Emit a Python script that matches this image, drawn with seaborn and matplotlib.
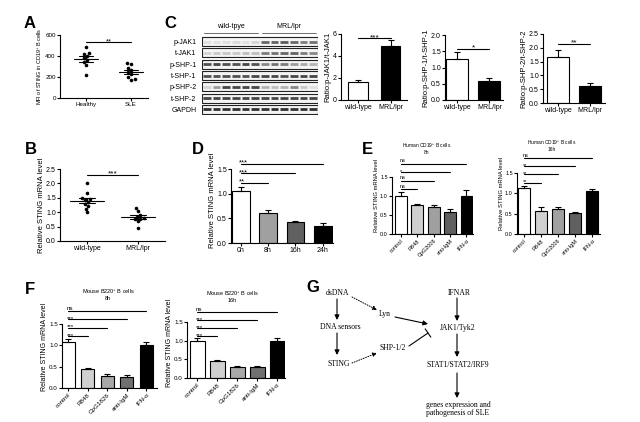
import numpy as np
import pandas as pd
import seaborn as sns
import matplotlib.pyplot as plt

# ---- data ----
# A: MFI of STING in CD19+ B cells
a_groups = ['Healthy', 'SLE']
a_healthy = [490, 430, 415, 400, 380, 360, 340, 310, 220]
a_sle = [330, 320, 290, 270, 250, 230, 200, 180, 175]

# B: STING mRNA in mice
b_groups = ['wild-type', 'MRL/lpr']
b_wt = [2.0, 1.65, 1.5, 1.45, 1.42, 1.35, 1.28, 1.22, 1.12, 1.0]
b_mrl = [1.15, 1.05, 0.92, 0.85, 0.8, 0.78, 0.75, 0.68, 0.45]

# C: western blot band density (6 wild-type lanes + 6 MRL/lpr lanes)
blot_rows = ['p-JAK1', 't-JAK1', 'p-SHP-1', 't-SHP-1', 'p-SHP-2', 't-SHP-2', 'GAPDH']
blot_groups = ['wild-tpye', 'MRL/lpr']
blot_pjak1 = [0.15, 0.15, 0.15, 0.18, 0.15, 0.2, 0.7, 0.72, 0.75, 0.7, 0.6, 0.65]
blot_tjak1 = [0.2, 0.25, 0.25, 0.25, 0.3, 0.3, 0.6, 0.65, 0.7, 0.72, 0.6, 0.55]
blot_pshp1 = [0.8, 0.85, 0.8, 0.8, 0.85, 0.8, 0.55, 0.65, 0.6, 0.45, 0.4, 0.35]
blot_tshp1 = [0.8, 0.8, 0.8, 0.8, 0.8, 0.85, 0.85, 0.85, 0.8, 0.85, 0.85, 0.85]
blot_pshp2 = [0.2, 0.45, 0.85, 0.85, 0.85, 0.85, 0.35, 0.3, 0.35, 0.55, 0.25, 0.15]
blot_tshp2 = [0.85, 0.85, 0.85, 0.85, 0.85, 0.85, 0.85, 0.85, 0.85, 0.85, 0.85, 0.85]
blot_gapdh = [0.95, 0.95, 0.95, 0.95, 0.95, 0.95, 0.95, 0.95, 0.95, 0.95, 0.95, 0.95]

# C: ratio bar charts
c_groups = ['wild-type', 'MRL/lpr']
c_jak1 = [1.6, 4.9]
c_jak1_err = [0.25, 0.55]
c_shp1 = [1.27, 0.58]
c_shp1_err = [0.22, 0.1]
c_shp2 = [1.66, 0.63]
c_shp2_err = [0.25, 0.1]

# D: time course
d_times = ['0h', '8h', '16h', '24h']
d_mean = [1.05, 0.62, 0.42, 0.35]
d_err = [0.08, 0.05, 0.02, 0.05]
d_sig = ['**', '***', '***']

# E: human CD19+ B cells
e_treat = ['control', 'R848', 'CpG2006', 'anti-IgM', 'IFN-α']
e8_mean = [1.0, 0.75, 0.72, 0.58, 1.0]
e8_err = [0.1, 0.05, 0.05, 0.08, 0.15]
e8_sig = ['ns', 'ns', '*', 'ns']
e16_mean = [1.13, 0.57, 0.62, 0.51, 1.05]
e16_err = [0.06, 0.1, 0.04, 0.04, 0.06]
e16_sig = ['**', '**', '**', 'ns']

# F: mouse B220+ B cells
f_treat = ['control', 'R848', 'CpG1826', 'anti-IgM', 'IFN-α']
f8_mean = [1.08, 0.45, 0.28, 0.25, 1.0]
f8_err = [0.07, 0.03, 0.05, 0.05, 0.07]
f8_sig = ['***', '***', '***', 'ns']
f16_mean = [0.99, 0.45, 0.30, 0.30, 0.99]
f16_err = [0.08, 0.03, 0.01, 0.03, 0.08]
f16_sig = ['***', '***', '***', 'ns']

# ---- style ----
sns.set_style('white', {'axes.edgecolor': 'black', 'xtick.bottom': True, 'ytick.left': True,
                        'xtick.color': 'black', 'ytick.color': 'black', 'text.color': 'black',
                        'axes.labelcolor': 'black'})
plt.rcParams['font.family'] = ['Liberation Sans', 'DejaVu Sans']
plt.rcParams['axes.linewidth'] = 0.8
plt.rcParams['mathtext.fontset'] = 'custom'
plt.rcParams['mathtext.rm'] = 'Liberation Sans'

W, H = 640, 422
fig = plt.figure(figsize=(6.4, 4.22), dpi=100)


def add_ax(left, top, right, bottom):
    return fig.add_axes([left / W, 1 - bottom / H, (right - left) / W, (bottom - top) / H])


def tidy(ax, fs=5):
    sns.despine(ax=ax)
    ax.tick_params(length=2, width=0.8, pad=1, labelsize=fs)
    ax.set_xlabel('')


def bars(ax, cats, means, errs, colors, width):
    df = pd.DataFrame({'cat': cats, 'val': means})
    sns.barplot(data=df, x='cat', y='val', hue='cat', palette=colors, width=width,
                edgecolor='black', linewidth=0.8, saturation=1, legend=False, ax=ax)
    ax.errorbar(range(len(cats)), means, yerr=[np.zeros(len(errs)), errs], fmt='none',
                ecolor='black', elinewidth=0.8, capsize=2, capthick=0.8)


def dots(ax, cats, groups, mean_w, sem_w):
    df = pd.DataFrame({'grp': np.repeat(cats, [len(g) for g in groups]),
                       'val': np.concatenate(groups)})
    sns.swarmplot(data=df, x='grp', y='val', color='black', size=2.6, ax=ax)
    for i, g in enumerate(groups):
        m = np.mean(g)
        se = np.std(g, ddof=1) / np.sqrt(len(g))
        ax.plot([i - mean_w, i + mean_w], [m, m], color='black', lw=0.8)
        ax.plot([i - sem_w, i + sem_w], [m - se, m - se], color='black', lw=0.8)
        ax.plot([i - sem_w, i + sem_w], [m + se, m + se], color='black', lw=0.8)
        ax.plot([i, i], [m - se, m + se], color='black', lw=0.8)


def star(ax, x, y, lab, fs, ha):
    # asterisks sit high in the glyph box, so pull them down a little
    dy = 0.8 if lab == 'ns' else -0.5
    ax.annotate(lab, xy=(x, y), xytext=(0, dy), textcoords='offset points',
                ha=ha, va='baseline', fontsize=fs, annotation_clip=False)


def sig_pair(ax, lab, y, fs=6):
    ax.plot([0, 1], [y, y], color='black', lw=0.8)
    star(ax, 0.5, y, lab, fs, 'center')


def sig_steps(ax, labels, y0, dy, fs=4.5):
    for i, lab in enumerate(labels):
        y = y0 + i * dy
        ax.plot([0, i + 1], [y, y], color='black', lw=0.8, clip_on=False)
        star(ax, -0.08, y, lab, fs, 'left')


# ---- A ----
ax = add_ax(60, 35, 148, 98)
dots(ax, a_groups, [a_healthy, a_sle], 0.27, 0.15)
ax.set_ylim(0, 600)
ax.set_xlim(-0.58, 1.38)
ax.set_yticks([0, 200, 400, 600])
ax.set_ylabel('MFI of STING in CD19$^{+}$ B cells', fontsize=4, labelpad=1)
sig_pair(ax, '**', 530, 5.5)
tidy(ax, 4.5)

# ---- B ----
ax = add_ax(60, 169, 165, 241)
dots(ax, b_groups, [b_wt, b_mrl], 0.33, 0.15)
ax.set_ylim(0, 2.5)
ax.set_xlim(-0.53, 1.53)
ax.set_yticks([0, 0.5, 1.0, 1.5, 2.0, 2.5])
ax.set_yticklabels(['0.0', '0.5', '1.0', '1.5', '2.0', '2.5'])
ax.set_ylabel('Relative STING mRNA level', fontsize=5.5, labelpad=1)
sig_pair(ax, '***', 2.3, 6)
tidy(ax, 5)

# ---- C blot ----
ax = add_ax(202, 36, 318, 115)
blot = [blot_pjak1, blot_tjak1, blot_pshp1, blot_tshp1, blot_pshp2, blot_tshp2, blot_gapdh]
lanes = np.arange(12)
for r, dens in enumerate(blot):
    ax.add_patch(plt.Rectangle((0, r + 0.1), 12, 0.8, fc='#f4f4f4', lw=0.8, ec='#222222'))
    cols = [str(round(1 - 0.85 * d, 3)) for d in dens]
    ax.hlines([r + 0.5] * 12, lanes + 0.1, lanes + 0.9, colors=cols, lw=2.0)
ax.set_xlim(0, 12)
ax.set_ylim(7, 0)
ax.set_xticks([])
ax.set_yticks(np.arange(7) + 0.5)
ax.set_yticklabels(blot_rows, fontsize=5)
ax.tick_params(axis='y', length=0, pad=4)
for s in ax.spines.values():
    s.set_visible(False)
for g, name in enumerate(blot_groups):
    ax.plot([g * 6 + 0.2, g * 6 + 5.8], [-0.28, -0.28], color='#555555', lw=0.6, clip_on=False)
    ax.text(g * 6 + 3, -0.8, name, ha='center', va='center', fontsize=5)

# ---- C ratios ----
ax = add_ax(341, 34, 407, 100)
bars(ax, c_groups, c_jak1, c_jak1_err, ['white', 'black'], 0.6)
ax.set_xlim(-0.52, 1.5)
ax.set_ylim(0, 6)
ax.set_yticks([0, 2, 4, 6])
ax.set_ylabel('Ratio:p-JAK1/t-JAK1', fontsize=5.5, labelpad=1)
sig_pair(ax, '***', 5.6)
tidy(ax)

ax = add_ax(445, 35, 503, 100)
bars(ax, c_groups, c_shp1, c_shp1_err, ['white', 'black'], 0.68)
ax.set_xlim(-0.37, 1.42)
ax.set_ylim(0, 2)
ax.set_yticks([0, 0.5, 1.0, 1.5, 2.0])
ax.set_yticklabels(['0.0', '0.5', '1.0', '1.5', '2.0'])
ax.set_ylabel('Ratio:p-SHP-1/t-SHP-1', fontsize=5.5, labelpad=1)
sig_pair(ax, '*', 1.58)
tidy(ax)

ax = add_ax(543, 34, 605, 103)
bars(ax, c_groups, c_shp2, c_shp2_err, ['white', 'black'], 0.7)
ax.set_xlim(-0.47, 1.47)
ax.set_ylim(0, 2.5)
ax.set_yticks([0, 0.5, 1.0, 1.5, 2.0, 2.5])
ax.set_yticklabels(['0.0', '0.5', '1.0', '1.5', '2.0', '2.5'])
ax.set_ylabel('Ratio:p-SHP-2/t-SHP-2', fontsize=5.5, labelpad=1)
sig_pair(ax, '**', 2.14)
tidy(ax)

# ---- D ----
ax = add_ax(231, 157, 333, 243)
bars(ax, d_times, d_mean, d_err, ['white', '#a0a0a0', '#606060', 'black'], 0.65)
ax.set_xlim(-0.35, 3.37)
ax.set_ylim(0, 1.75)
ax.set_yticks([0, 0.5, 1.0, 1.5])
ax.set_yticklabels(['0.0', '0.5', '1.0', '1.5'])
ax.set_ylabel('Relative STING mRNA level', fontsize=5.5, labelpad=1)
sig_steps(ax, d_sig, 1.22, 0.195, 5.5)
tidy(ax)
ax.spines['left'].set_bounds(0, 1.5)

# ---- E / F ----
treat_cols_e = ['white', '#d0d0d0', '#a0a0a0', '#606060', 'black']
treat_cols_f = ['white', '#d0d0d0', '#a8a8a8', '#707070', 'black']


def treat_panel(box, cats, means, errs, sig, cols, xlim, ylim, y0, dy, fs, lab_fs, width):
    ax = add_ax(*box)
    bars(ax, cats, means, errs, cols, width)
    ax.set_xlim(*xlim)
    ax.set_ylim(0, ylim)
    ax.set_yticks([0, 0.5, 1.0, 1.5])
    ax.set_yticklabels(['0.0', '0.5', '1.0', '1.5'])
    ax.set_ylabel('Relative STING mRNA level', fontsize=lab_fs, labelpad=1)
    sig_steps(ax, sig, y0, dy, fs)
    tidy(ax, fs)
    ax.spines['left'].set_bounds(0, 1.5)
    ax.set_xticks(range(len(cats)))
    ax.set_xticklabels(cats, rotation=45, ha='right', rotation_mode='anchor', fontsize=fs)
    return ax


treat_panel((392, 158, 473, 234), e_treat, e8_mean, e8_err, e8_sig, treat_cols_e,
            (-0.55, 4.4), 2.0, 1.18, 0.225, 4, 4.2, 0.72)
treat_panel((517, 153, 600, 234), e_treat, e16_mean, e16_err, e16_sig, treat_cols_e,
            (-0.41, 4.44), 2.0, 1.27, 0.2, 4, 4.2, 0.7)
treat_panel((62, 305, 157, 388), f_treat, f8_mean, f8_err, f8_sig, treat_cols_f,
            (-0.31, 4.54), 1.95, 1.22, 0.197, 4.5, 5, 0.68)
treat_panel((187, 307, 285, 378), f_treat, f16_mean, f16_err, f16_sig, treat_cols_f,
            (-0.5, 4.4), 1.9, 1.12, 0.215, 4.5, 5, 0.75)

# ---- overlay: letters, titles, pathway diagram ----
ov = fig.add_axes([0, 0, 1, 1])
ov.set_xlim(0, W)
ov.set_ylim(H, 0)
ov.axis('off')

for letter, x, y in [('A', 30, 23), ('C', 170, 23), ('B', 31, 149), ('D', 198, 149),
                     ('E', 367, 150), ('F', 30, 289), ('G', 313, 288)]:
    ov.text(x, y, letter, fontsize=12, fontweight='bold', ha='center', va='center')

for txt, x, y, fs in [('Human CD19$^{+}$ B cells\n8h', 427, 148, 3.5),
                      ('Human CD19$^{+}$ B cells\n16h', 552, 145, 3.5),
                      ('Mouse B220$^{+}$ B cells\n8h', 108, 294, 4),
                      ('Mouse B220$^{+}$ B cells\n16h', 232, 296, 4)]:
    ov.text(x, y, txt, fontsize=fs, ha='center', va='center', linespacing=1.0)

serif = ['Liberation Serif', 'DejaVu Serif']
nodes = {'dsDNA': (337, 293), 'DNA sensors': (340, 327), 'STING': (339, 364),
         'Lyn': (385, 314), 'SHP-1/2': (393, 348), 'IFNAR': (459, 293),
         'JAK1/Tyk2': (458, 328), 'STAT1/STAT2/IRF9': (458, 365),
         'genes expression and\npathogenesis of SLE': (458, 409)}
for name, (x, y) in nodes.items():
    ov.text(x, y, name, family=serif, fontsize=5.5, ha='center', va='center', linespacing=1.1)

solid = dict(arrowstyle='-|>', lw=0.8, color='black', mutation_scale=7, shrinkA=0, shrinkB=0)
dotted = dict(arrowstyle='-|>', lw=0.7, color='black', mutation_scale=6, shrinkA=0, shrinkB=0,
              linestyle=(0, (1, 1.5)))
for (x0, y0), (x1, y1), style in [((337, 299), (337, 320), solid),
                                  ((337, 333), (337, 355), solid),
                                  ((352, 297), (377, 310), dotted),
                                  ((395, 317), (428, 324), solid),
                                  ((352, 363), (377, 353), dotted),
                                  ((457, 298), (457, 321), solid),
                                  ((457, 334), (457, 357), solid),
                                  ((457, 373), (457, 398), solid)]:
    ov.annotate('', xy=(x1, y1), xytext=(x0, y0), arrowprops=style)
ov.annotate('', xy=(428, 333), xytext=(409, 346),
            arrowprops=dict(arrowstyle='-[, widthB=0.6, lengthB=0', lw=0.8, color='black',
                            mutation_scale=6, shrinkA=0, shrinkB=0))

fig.savefig('out.png', dpi=100)
